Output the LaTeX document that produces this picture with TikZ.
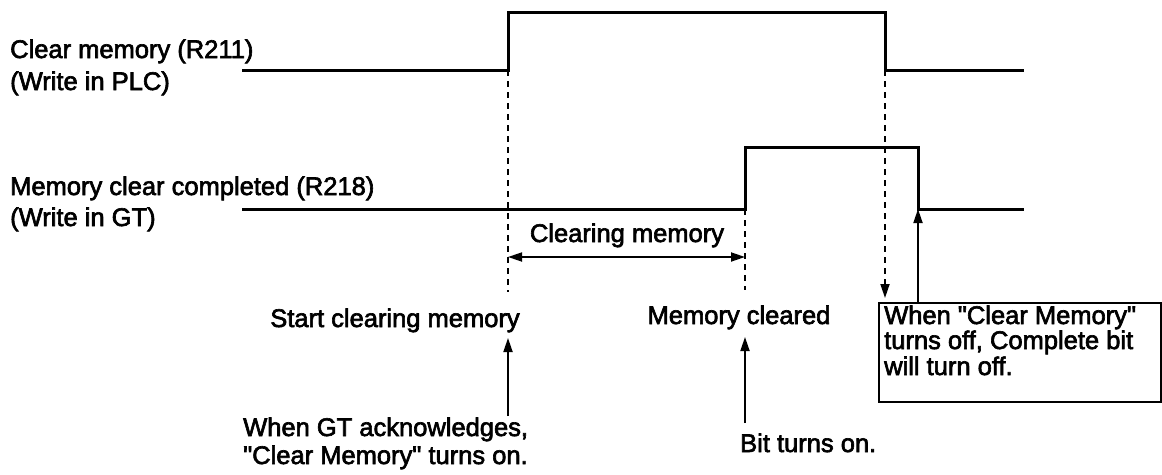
\documentclass[tikz,border=0pt]{standalone}
\usepackage{fontspec}
\newfontfamily\lblfont{Liberation Sans}[FakeBold=2.5]
\usetikzlibrary{arrows.meta}
\begin{document}
\begin{tikzpicture}[x=1pt,y=-1pt,
  lbl/.style={inner sep=0pt,anchor=base west,font=\lblfont\fontsize{25.5}{30}\selectfont},
  lblc/.style={lbl,anchor=base},
  signal/.style={line width=3pt,line join=miter},
  guide/.style={line width=1.8pt,dash pattern=on 6pt off 5pt},
  tipped/.style={line width=1.8pt,-{Triangle[length=14pt,width=9pt]}},
  framebox/.style={draw,line width=1.6pt,inner sep=0pt,anchor=north west,minimum width=282pt,minimum height=99pt}]
\useasboundingbox (0,0) rectangle (1162,474);

% signal corners
\coordinate (a0) at (242,70);
\coordinate (a1) at (508,70);
\coordinate (a2) at (508,12);
\coordinate (a3) at (885,12);
\coordinate (a4) at (885,70);
\coordinate (a5) at (1024,70);
\coordinate (b0) at (242,209);
\coordinate (b1) at (745,209);
\coordinate (b2) at (745,147);
\coordinate (b3) at (918,147);
\coordinate (b4) at (918,209);
\coordinate (b5) at (1024,209);

\draw[signal] (a0) -- (a1) -- (a2) -- (a3) -- (a4) -- (a5);
\draw[signal] (b0) -- (b1) -- (b2) -- (b3) -- (b4) -- (b5);

% left labels
\node[lbl] (l1a) at (10,58) {Clear memory (R211)};
\node[lbl] (l1b) at (10,90) {(Write in PLC)};
\node[lbl] (l2a) at (10,195) {Memory clear completed (R218)};
\node[lbl] (l2b) at (10,226) {(Write in GT)};

% guide lines ends
\coordinate (g1) at (508,292);
\coordinate (g2) at (745,290);
\coordinate (g3) at (885,298);
\draw[guide] (a1) -- (g1);
\draw[guide] (b1) -- (g2);
\draw[guide,-{Triangle[length=14pt,width=9pt]}] (a4) -- (g3);

% clearing memory span
\coordinate (c1) at (508,257);
\coordinate (c2) at (745,257);
\draw[line width=1.8pt,{Triangle[length=14pt,width=9pt]}-{Triangle[length=14pt,width=9pt]}] (c1) -- (c2);
\node[lblc] (clr) at (627,242) {Clearing memory};

% event labels
\node[lblc] (start) at (395,327) {Start clearing memory};
\node[lblc] (cleared) at (739,324) {Memory cleared};

\coordinate (u1a) at (508,416);
\coordinate (u1b) at (508,338);
\draw[tipped] (u1a) -- (u1b);
\coordinate (u2a) at (745,423);
\coordinate (u2b) at (745,337);
\draw[tipped] (u2a) -- (u2b);

\node[lbl] (ack1) at (243,436) {When GT acknowledges,};
\node[lbl] (ack2) at (243,464) {"Clear Memory" turns on.};
\node[lbl] (bit) at (740,452) {Bit turns on.};

% box
\node[framebox] (box) at (878,302) {};
\node[lbl] (bx1) at (884,324) {When "Clear Memory"};
\node[lbl] (bx2) at (884,349) {turns off, Complete bit};
\node[lbl] (bx3) at (884,375) {will turn off.};
\draw[tipped] (box.north west -| b4) -- (b4);
\end{tikzpicture}
\end{document}
